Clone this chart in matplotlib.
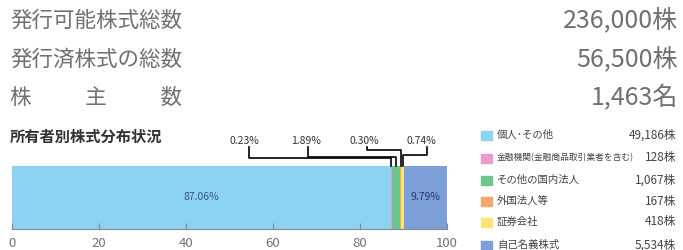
import matplotlib
matplotlib.use("Agg")
import matplotlib.pyplot as plt

plt.rcParams['font.family'] = ['Noto Sans CJK JP', 'DejaVu Sans']

# summary rows
summary_labels = ['発行可能株式総数', '発行済株式の総数', '株\u3000\u3000\u2002主\u3000\u3000\u2002数']
summary_values = ['236,000株', '56,500株', '1,463名']

# shareholder distribution
categories = ['個人･その他', '金融機関(金融商品取引業者を含む)', 'その他の国内法人',
              '外国法人等', '証券会社', '自己名義株式']
shares = ['49,186株', '128株', '1,067株', '167株', '418株', '5,534株']
percents = [87.06, 0.23, 1.89, 0.30, 0.74, 9.79]
colors = ['#8cd2f2', '#e99ccb', '#6cc48e', '#f5a86a', '#f7e57a', '#7c9fd9']
ticks = [0, 20, 40, 60, 80, 100]

fig = plt.figure(figsize=(6.83, 2.5), dpi=100)
W, H = 683, 250

txt_color = '#707070'
row_y = [21, 60, 98]
for lab, val, y in zip(summary_labels, summary_values, row_y):
    fig.text(10 / W, 1 - y / H, lab, fontsize=15.5, color=txt_color, va='center', ha='left')
    fig.text(678 / W, 1 - y / H, val, fontsize=18, color=txt_color, va='center', ha='right')

fig.text(10 / W, 1 - 137 / H, '所有者別株式分布状況', fontsize=11, color='#333333',
         va='center', ha='left', fontweight='bold')

# bar axes
x0, x1 = 12, 447
ytop, ybot = 166, 229
ax = fig.add_axes([x0 / W, 1 - ybot / H, (x1 - x0) / W, (ybot - ytop) / H])
left = 0
for p, c in zip(percents, colors):
    ax.barh(0.5, p, left=left, height=1.0, color=c, edgecolor='none')
    left += p
ax.set_xlim(0, 100)
ax.set_ylim(0, 1)
ax.set_yticks([])
ax.set_xticks(ticks)
ax.set_xticklabels([str(t) for t in ticks], fontsize=9.5, color=txt_color)
ax.tick_params(axis='x', direction='in', length=4, color='#888888', pad=6)
for s in ['top', 'left', 'right']:
    ax.spines[s].set_visible(False)
ax.spines['bottom'].set_color('#888888')
ax.set_facecolor('none')

ax.text(percents[0] / 2, 0.5, f'{percents[0]:.2f}%', ha='center', va='center',
        fontsize=7.5, color='#3a5a7a')
ax.text(100 - percents[5] / 2, 0.5, f'{percents[5]:.2f}%', ha='center', va='center',
        fontsize=7.5, color='#2a3a6a')

# callouts for small segments
starts = [sum(percents[:i]) for i in range(len(percents))]
label_x = [53.5, 67.5, 81.0, 94.0]
line_x = [54.5, 68.0, 81.6, 95.4]
hline_y = [1.12, 1.14, 1.26, 1.18]
for k, i in enumerate(range(1, 5)):
    seg = starts[i] + percents[i] / 2
    ax.text(label_x[k], 1.40, f'{percents[i]:.2f}%', ha='center', va='center',
            fontsize=7.5, color='#333333', clip_on=False)
    ax.plot([line_x[k], line_x[k], seg, seg], [1.30, hline_y[k], hline_y[k], 1.0],
            color='black', lw=1.2, clip_on=False)

# legend
leg_y = [135, 158, 180, 201, 222, 245]
for cat, sh, c, y in zip(categories, shares, colors, leg_y):
    fy = 1 - y / H
    fig.patches.append(plt.Rectangle((481 / W, fy - 4.5 / H), 11 / W, 9 / H,
                                     transform=fig.transFigure, color=c))
    fs = 7.5 if len(cat) < 10 else 6.3
    fig.text(497 / W, fy, cat, fontsize=fs, color='#444444', va='center', ha='left')
    fig.text(676 / W, fy, sh, fontsize=8.5, color='#444444', va='center', ha='right')

fig.savefig('out.png', dpi=100)
